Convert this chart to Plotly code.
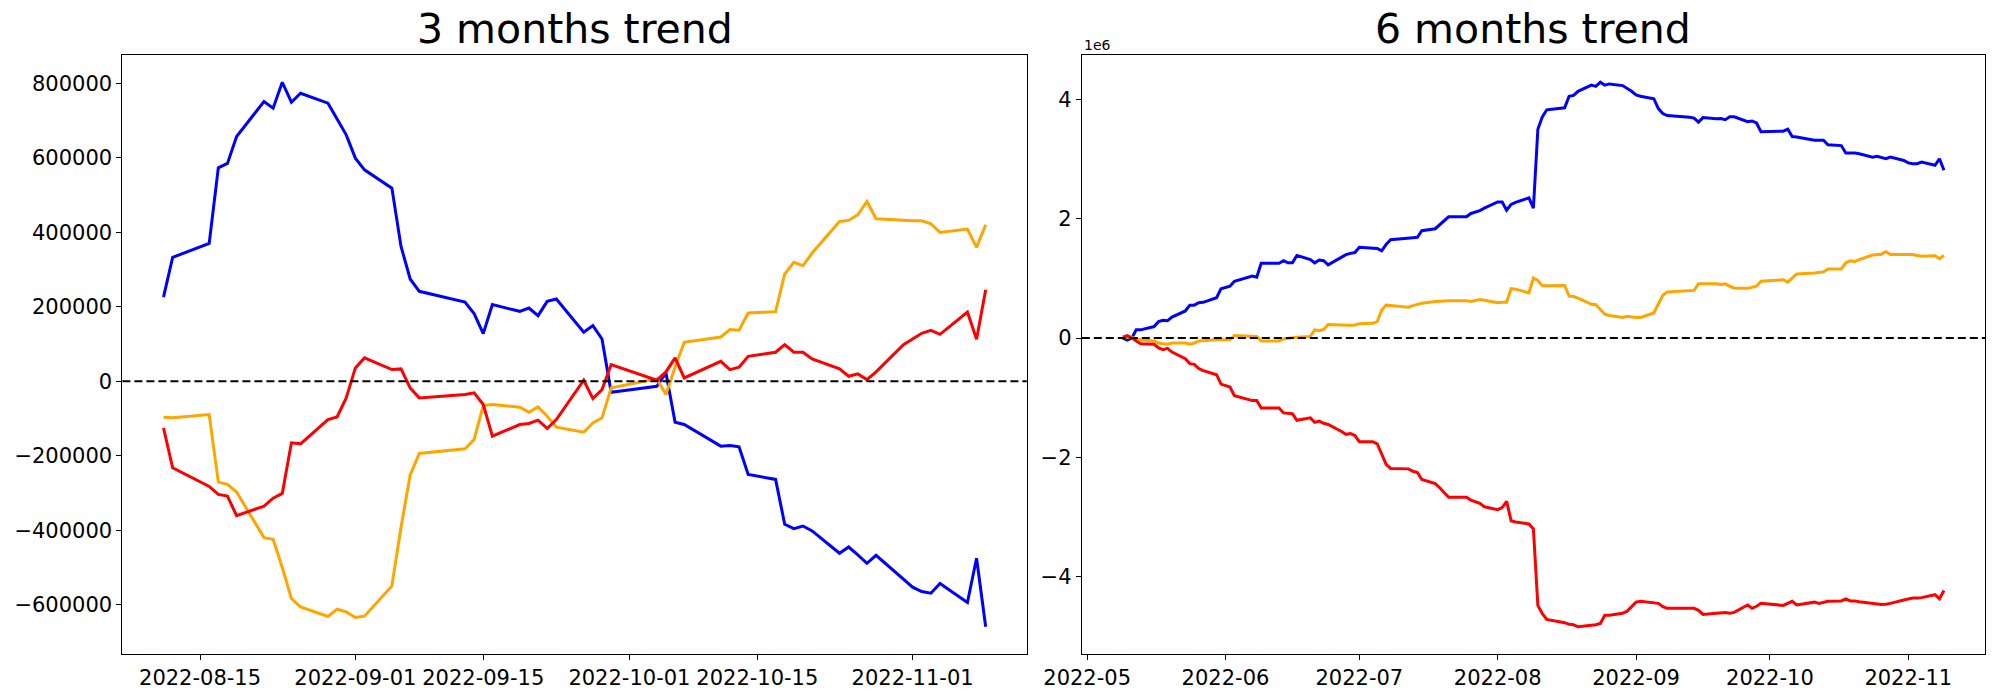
import pandas as pd
import plotly.graph_objects as go

# ---------------- data ----------------
HOLIDAYS = ["2022-06-01", "2022-06-06", "2022-08-15", "2022-09-09", "2022-09-12",
            "2022-09-30", "2022-10-03", "2022-10-10"]
START_6M = "2022-05-09"
START_3M = "2022-08-11"
END = "2022-11-09"

# 3 months trend (raw units)
blue_3m = [226000, 332600, 370100, 573000, 584700, 657100, 751000, 733100, 802800, 749200, 773300, 746500, 704000, 661600,
           599000, 567700, 518500, 362100, 274500, 241400, 212800, 181500, 127900, 205600, 187700, 196600, 176100, 214500, 220700, 131400, 149300, 113500, -29500,
           -13400, 22400, -110000, -116200, -174300, -172500, -176100, -250300, -263600, -384200, -395700, -388700, -402000, -461900, -445100, -466000, -488800, -467300, -533500,
           -553000, -564600, -569200, -543200, -594100, -475300, -659300]
orange_3m = [-96600, -98300, -89400, -270900, -277000, -297600, -419900, -424400, -500000, -583400, -605900, -631700, -612100, -619300,
             -634300, -630800, -549600, -392200, -251500, -194000, -181500, -156400, -65400, -62600, -69700, -83100, -68800, -93900, -123400, -136800, -111800, -98300, -17900,
             6300, -35800, 38000, 104600, 118900, 138600, 136800, 183300, 186800, 287900, 319200, 310200, 344200, 429100, 431800, 447000, 482800, 436300, 430900,
             430900, 430900, 422900, 399600, 408600, 359400, 420200]
red_3m = [-125200, -232400, -282500, -304000, -308400, -361000, -335200, -314000, -301200, -165400, -168100, -103000, -96000, -44700,
          35800, 62600, 31300, 33100, -17900, -44700, -35800, -31300, -62600, -147500, -116200, -113500, -104600, -126900, -102800, 2700, -46500, -22400, 44700,
          2700, 25000, 62600, 8900, 53600, 31300, 37500, 67000, 77800, 98300, 77800, 77800, 60000, 33100, 13400, 19700, 4500, 25000, 98300,
          113500, 128700, 136700, 125900, 185800, 112600, 245800]

# 6 months trend (in units of 1e6)
blue_6m = [0.0, -0.034, 0.0, 0.138, 0.138, 0.193, 0.276, 0.297, 0.29, 0.352, 0.455, 0.552, 0.552, 0.593, 0.60, 0.676, 0.828,
           0.869, 0.952, 1.041, 1.021, 1.255, 1.255, 1.255, 1.297, 1.262, 1.262, 1.386, 1.317, 1.262, 1.31, 1.297, 1.228, 1.35, 1.40, 1.42, 1.434,
           1.524, 1.517, 1.503, 1.462, 1.572, 1.648, 1.662, 1.676, 1.683, 1.69, 1.80, 1.834, 1.897, 1.966, 2.034, 2.034, 2.034, 2.09, 2.11, 2.138, 2.18,
           2.283, 2.283, 2.145, 2.241, 2.276, 2.352, 2.179, 3.503, 3.71, 3.828, 3.862, 4.055, 4.069, 4.138, 4.241, 4.221, 4.29, 4.241, 4.262, 4.234, 4.193, 4.138,
           4.076, 4.055, 4.014, 3.848, 3.766, 3.731, 3.703, 3.69, 3.621, 3.697, 3.676, 3.683, 3.662, 3.71, 3.71, 3.628, 3.641, 3.607, 3.462,
           3.469, 3.503, 3.379, 3.372, 3.317, 3.317, 3.317, 3.241, 3.228, 3.103, 3.103, 3.103, 3.09, 3.034, 3.048, 3.028, 3.007, 3.034, 2.979,
           2.938, 2.924, 2.924, 2.952, 2.897, 3.007, 2.814]
orange_6m = [0.014, 0.014, 0.014, -0.014, -0.028, -0.048, -0.083, -0.097, -0.103, -0.083, -0.083, -0.103, -0.083, -0.048, -0.041, -0.028, -0.028,
             -0.028, 0.041, 0.028, 0.028, -0.048, -0.048, -0.048, -0.014, 0.0, 0.007, 0.014, 0.028, 0.138, 0.124, 0.145, 0.228, 0.221, 0.214, 0.214, 0.221,
             0.241, 0.248, 0.276, 0.469, 0.552, 0.545, 0.531, 0.517, 0.545, 0.566, 0.586, 0.614, 0.621, 0.621, 0.628, 0.628, 0.628, 0.614, 0.634, 0.648, 0.634,
             0.593, 0.60, 0.60, 0.828, 0.821, 0.759, 1.007, 0.966, 0.876, 0.876, 0.883, 0.703, 0.697, 0.669, 0.566, 0.559, 0.483, 0.40, 0.379, 0.345, 0.366, 0.352,
             0.345, 0.345, 0.421, 0.572, 0.717, 0.772, 0.786, 0.80, 0.91, 0.91, 0.91, 0.897, 0.91, 0.869, 0.841, 0.834, 0.848, 0.869, 0.952,
             0.979, 0.938, 1.014, 1.076, 1.09, 1.103, 1.11, 1.159, 1.159, 1.262, 1.297, 1.283, 1.317, 1.393, 1.40, 1.407, 1.448, 1.40, 1.40,
             1.40, 1.40, 1.386, 1.372, 1.379, 1.331, 1.386]
red_6m = [0.014, 0.041, 0.0, -0.048, -0.097, -0.103, -0.166, -0.193, -0.172, -0.234, -0.345, -0.428, -0.441, -0.51, -0.545, -0.614, -0.772,
          -0.821, -0.966, -1.048, -1.048, -1.172, -1.172, -1.172, -1.255, -1.262, -1.269, -1.379, -1.338, -1.414, -1.393, -1.428, -1.448, -1.566, -1.614, -1.60, -1.634,
          -1.738, -1.738, -1.772, -1.945, -2.117, -2.186, -2.186, -2.193, -2.234, -2.255, -2.372, -2.441, -2.51, -2.586, -2.669, -2.669, -2.669, -2.717, -2.745, -2.772, -2.828,
          -2.876, -2.841, -2.738, -3.062, -3.083, -3.117, -3.20, -4.483, -4.621, -4.717, -4.772, -4.80, -4.807, -4.841, -4.821, -4.807, -4.786, -4.648, -4.648, -4.614, -4.579, -4.497,
          -4.428, -4.414, -4.448, -4.448, -4.503, -4.531, -4.531, -4.531, -4.566, -4.634, -4.614, -4.607, -4.60, -4.614, -4.60, -4.476, -4.531, -4.497, -4.448,
          -4.483, -4.448, -4.414, -4.476, -4.428, -4.448, -4.434, -4.414, -4.407, -4.372, -4.407, -4.407, -4.421, -4.448, -4.469, -4.469, -4.462, -4.448, -4.393,
          -4.372, -4.359, -4.359, -4.352, -4.303, -4.372, -4.234]

TICKS_3M = ["2022-08-15", "2022-09-01", "2022-09-15", "2022-10-01", "2022-10-15", "2022-11-01"]
TICKS_6M = ["2022-05-01", "2022-06-01", "2022-07-01", "2022-08-01", "2022-09-01", "2022-10-01", "2022-11-01"]
YTICKS_3M = [-600000, -400000, -200000, 0, 200000, 400000, 600000, 800000]
YTICKS_6M = [-4, -2, 0, 2, 4]
TITLES = ["3 months trend", "6 months trend"]
COLORS = {"blue": "#0000ff", "orange": "#ffa500", "red": "#ff0000"}

# ---------------- build ----------------
hol = pd.to_datetime(HOLIDAYS)
dates_6m = [d for d in pd.bdate_range(START_6M, END) if d not in hol]
dates_3m = [d for d in dates_6m if d >= pd.Timestamp(START_3M)]

def pad(lo, hi, frac=0.05):
    span = hi - lo
    return lo - frac * span, hi + frac * span

def date_range(ds):
    lo, hi = pad(min(ds), max(ds))
    return [lo.isoformat(), hi.isoformat()]

def val_range(*series):
    allv = [v for s in series for v in s]
    lo, hi = pad(min(allv), max(allv))
    return [lo, hi]

def fmt(v):
    s = f"{v:g}" if abs(v) < 1e5 else str(int(v))
    return s.replace("-", "\u2212")

FONT = "DejaVu Sans"
LW = 3
fig = go.Figure()
for name, ys in [("blue", blue_3m), ("orange", orange_3m), ("red", red_3m)]:
    fig.add_trace(go.Scatter(x=dates_3m, y=ys, mode="lines", showlegend=False,
                             line=dict(color=COLORS[name], width=LW), xaxis="x", yaxis="y"))
for name, ys in [("blue", blue_6m), ("orange", orange_6m), ("red", red_6m)]:
    fig.add_trace(go.Scatter(x=dates_6m, y=[v * 1e6 for v in ys], mode="lines", showlegend=False,
                             line=dict(color=COLORS[name], width=LW), xaxis="x2", yaxis="y2"))

XD1 = [0.0612, 0.5134]
XD2 = [0.5409, 0.9925]
YD = [0.0657, 0.9214]

axis_common = dict(showline=True, mirror=True, linecolor="black", linewidth=1.1,
                   ticks="outside", ticklen=5, tickwidth=1.1, tickcolor="black",
                   showgrid=False, zeroline=False, automargin=False,
                   tickfont=dict(family=FONT, size=21, color="black"))

fig.update_layout(
    width=2000, height=700,
    margin=dict(l=0, r=0, t=0, b=0, autoexpand=False),
    paper_bgcolor="white", plot_bgcolor="white",
    font=dict(family=FONT, color="black"),
    xaxis=dict(domain=XD1, anchor="y", type="date", range=date_range(dates_3m),
               tickvals=TICKS_3M, tickformat="%Y-%m-%d", **axis_common),
    yaxis=dict(domain=YD, anchor="x", range=val_range(blue_3m, orange_3m, red_3m),
               tickvals=YTICKS_3M, ticktext=[fmt(v) for v in YTICKS_3M], **axis_common),
    xaxis2=dict(domain=XD2, anchor="y2", type="date", range=date_range(dates_6m),
                tickvals=TICKS_6M, tickformat="%Y-%m", **axis_common),
    yaxis2=dict(domain=YD, anchor="x2",
                range=[v * 1e6 for v in val_range(blue_6m, orange_6m, red_6m)],
                tickvals=[v * 1e6 for v in YTICKS_6M], ticktext=[fmt(v) for v in YTICKS_6M],
                **axis_common),
)

for xref, yref in [("x domain", "y"), ("x2 domain", "y2")]:
    fig.add_shape(type="line", xref=xref, yref=yref, x0=0, x1=1, y0=0, y1=0,
                  line=dict(color="black", width=2, dash="8px,4px"))

for title, dom in zip(TITLES, [XD1, XD2]):
    fig.add_annotation(text=title, x=(dom[0] + dom[1]) / 2, y=YD[1], xref="paper", yref="paper",
                       xanchor="center", yanchor="bottom", yshift=0, showarrow=False,
                       font=dict(family=FONT, size=41, color="black"))

fig.add_annotation(text="1e6", x=XD2[0], y=YD[1], xref="paper", yref="paper",
                   xanchor="left", yanchor="bottom", yshift=0, showarrow=False,
                   font=dict(family=FONT, size=14, color="black"))

fig.write_html("out.html", config={"displayModeBar": False},
               post_script="document.body.style.margin='0px';")
